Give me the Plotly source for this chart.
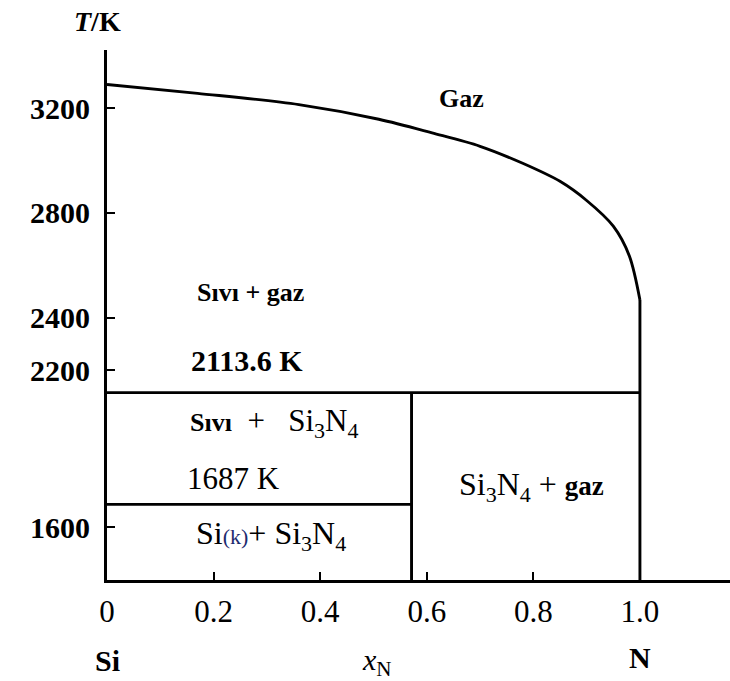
import plotly.graph_objects as go

# Si–N phase diagram: liquid/gas boundary read along the composition axis
x_boundary = [0.0, 0.17, 0.36, 0.51, 0.61, 0.70, 0.78, 0.85, 0.90, 0.95, 0.98, 1.0]
T_boundary = [3290, 3256, 3213, 3157, 3105, 3054, 2989, 2920, 2847, 2749, 2636, 2467]

x_si3n4 = 4 / 7          # mole fraction of N in Si3N4
T_decomp = 2113.6        # Si3N4 decomposition temperature, K
T_melt = 1687            # melting point of Si, K

T_ticks = [1600, 2200, 2400, 2800, 3200]
x_ticks = [0, 0.2, 0.4, 0.6, 0.8, 1.0]
x_tick_text = ["0", "0.2", "0.4", "0.6", "0.8", "1.0"]

T_range = [1398.5, 3421.4]
x_range = [0, 1.169]

FONT = "Liberation Serif"
INK = "black"
LW = 2.9

fig = go.Figure()

def seg(xs, ys, shape="linear"):
    fig.add_trace(go.Scatter(
        x=xs, y=ys, mode="lines", hoverinfo="skip", showlegend=False,
        line=dict(color=INK, width=LW, shape=shape, smoothing=0.9),
    ))

# liquid + gas / gas boundary, then straight down along pure N
seg(x_boundary, T_boundary, shape="spline")
seg([1.0, 1.0], [T_boundary[-1], T_range[0]])
# invariant lines
seg([0.0, 1.0], [T_decomp, T_decomp])
seg([0.0, x_si3n4], [T_melt, T_melt])
seg([x_si3n4, x_si3n4], [T_decomp, T_range[0]])

def note(text, x, y, size=30, weight="normal", xref="x", yref="y",
         xanchor="center", yanchor="middle", yshift=0, xshift=0):
    fig.add_annotation(
        text=text, x=x, y=y, xref=xref, yref=yref, showarrow=False,
        xanchor=xanchor, yanchor=yanchor, xshift=xshift, yshift=yshift,
        font=dict(family=FONT, size=size, color=INK, weight=weight),
    )

def span(text, size, bold=False, italic=False, color=None):
    style = f"font-size:{size}px"
    if bold:
        style += ";font-weight:bold"
    if italic:
        style += ";font-style:italic"
    if color:
        style += f";fill:{color}"
    return f"<span style='{style}'>{text}</span>"

NB = "\u00a0"

def si3n4(size):
    sub = round(size * 0.7)
    return "Si" + f"<sub>{span('3', sub)}</sub>" + "N" + f"<sub>{span('4', sub)}</sub>"

note("Gaz", 0.666, 3238, size=26, weight="bold")
note("Sıvı + gaz", 0.27, 2494, size=26, weight="bold")
note("2113.6" + NB + "K", 0.262, T_decomp, weight="bold", yanchor="bottom", yshift=14)
note(span("Sıvı", 26, bold=True) + NB * 2 + "+" + NB * 3 + si3n4(31),
     0.313, T_decomp, size=31, yanchor="top", yshift=-8)
note("1687" + NB + "K", 0.238, T_melt, size=31, yanchor="bottom", yshift=6)
note("Si" + span("(k)", 22, color="#1c2a6e") + "+" + NB + si3n4(32),
     0.308, T_melt, size=32, yanchor="top", yshift=-9)
note(si3n4(32) + NB + "+" + NB + span("gaz", 27, bold=True),
     0.796, (T_decomp + T_range[0]) / 2, size=32)

# axis titles and end-member labels
note(span("T", 28, italic=True) + "/K", 0, 1.053, size=28, weight="bold",
     xref="paper", yref="paper", xshift=-10)
note("Si", 0, -0.152, weight="bold", yref="paper")
note("N", 1.0, -0.147, weight="bold", yref="paper")
note(span("x", 30, italic=True) + f"<sub>{span('N', 21)}</sub>", 0.507, -0.155, yref="paper")

fig.update_xaxes(
    range=x_range, tickvals=x_ticks, ticktext=x_tick_text,
    ticks="inside", ticklen=8, tickwidth=2.4, tickcolor=INK,
    showline=True, linewidth=LW, linecolor=INK,
    showgrid=False, zeroline=False, ticklabelstandoff=2,
    tickfont=dict(family=FONT, size=31, color=INK),
)
fig.update_yaxes(
    range=T_range, tickvals=T_ticks,
    ticks="inside", ticklen=8, tickwidth=2.4, tickcolor=INK,
    showline=True, linewidth=LW, linecolor=INK,
    showgrid=False, zeroline=False, ticklabelstandoff=8,
    tickfont=dict(family=FONT, size=30, color=INK, weight="bold"),
)
fig.update_layout(
    width=730, height=681, autosize=False,
    margin=dict(l=107, r=0, t=50, b=101, autoexpand=False),
    paper_bgcolor="white", plot_bgcolor="white",
    font=dict(family=FONT, size=30, color=INK),
)

fig.write_html("out.html")
